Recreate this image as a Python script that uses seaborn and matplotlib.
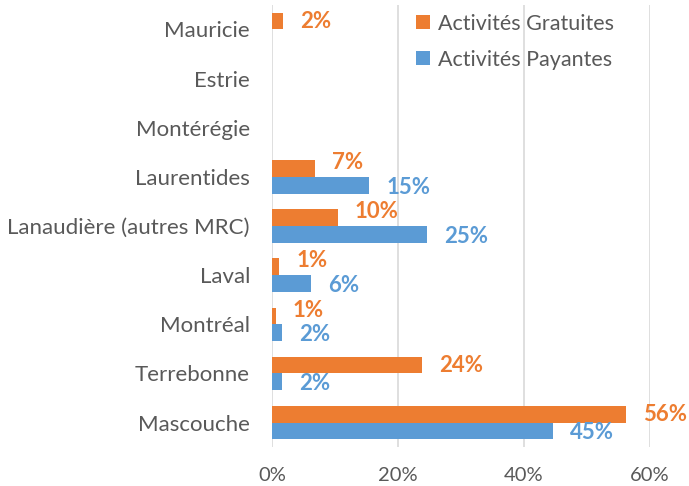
import numpy as np
import matplotlib
matplotlib.use("Agg")
import matplotlib.pyplot as plt
import seaborn as sns
import pandas as pd

regions = ["Mauricie", "Estrie", "Montérégie", "Laurentides",
           "Lanaudière (autres MRC)", "Laval", "Montréal", "Terrebonne", "Mascouche"]
gratuites = [1.7, 0, 0, 6.8, 10.4, 1.1, 0.6, 23.8, 56.2]
payantes = [0, 0, 0, 15.4, 24.6, 6.2, 1.6, 1.6, 44.6]
series = ["Activités Gratuites", "Activités Payantes"]
colors = ["#ED7D31", "#5B9BD5"]

df = pd.DataFrame({
    "region": regions * 2,
    "value": gratuites + payantes,
    "serie": [series[0]] * len(regions) + [series[1]] * len(regions),
})

sns.set_style("white")
plt.rcParams["font.family"] = ["Lato", "DejaVu Sans"]

fig = plt.figure(figsize=(6.89, 4.86), dpi=100)
ax = fig.add_axes([0.395, 0.08, 0.548, 0.91])

sns.barplot(data=df, y="region", x="value", hue="serie", order=regions,
            hue_order=series, palette=colors, orient="h", width=0.68,
            linewidth=0, saturation=1, ax=ax)

ax.set_xlim(0, 60)
ax.set_xticks([0, 20, 40, 60])
ax.set_xticklabels([f"{t}%" for t in [0, 20, 40, 60]])
ax.set_xlabel("")
ax.set_ylabel("")
ax.grid(axis="x", color="#D9D9D9", linewidth=1.2)
ax.set_axisbelow(True)
for s in ax.spines.values():
    s.set_visible(False)
ax.tick_params(axis="y", length=0, pad=16, labelsize=16, labelcolor="#595959")
ax.tick_params(axis="x", length=0, pad=14, labelsize=14.5, labelcolor="#595959")

# data labels; orange ones are nudged up where the blue bar is longer
for i, (g, p) in enumerate(zip(gratuites, payantes)):
    og, ob = ax.containers[0][i], ax.containers[1][i]
    if g > 0:
        dy = -0.12 if p > g else 0
        ax.text(g + 2.7, og.get_y() + og.get_height() / 2 + dy, f"{round(g)}%",
                color=colors[0], fontsize=16, fontweight="bold", va="center",
                ha="left", clip_on=False)
    if p > 0:
        ax.text(p + 2.7, ob.get_y() + ob.get_height() / 2 + 0.04, f"{round(p)}%",
                color=colors[1], fontsize=16, fontweight="bold", va="center",
                ha="left", clip_on=False)

leg = ax.legend(loc="upper left", bbox_to_anchor=(0.33, 1.024), frameon=False,
                fontsize=15.5, handlelength=0.65, handleheight=0.65,
                handletextpad=0.35, labelspacing=0.75)
for t in leg.get_texts():
    t.set_color("#595959")

fig.savefig("out.png", dpi=100)
